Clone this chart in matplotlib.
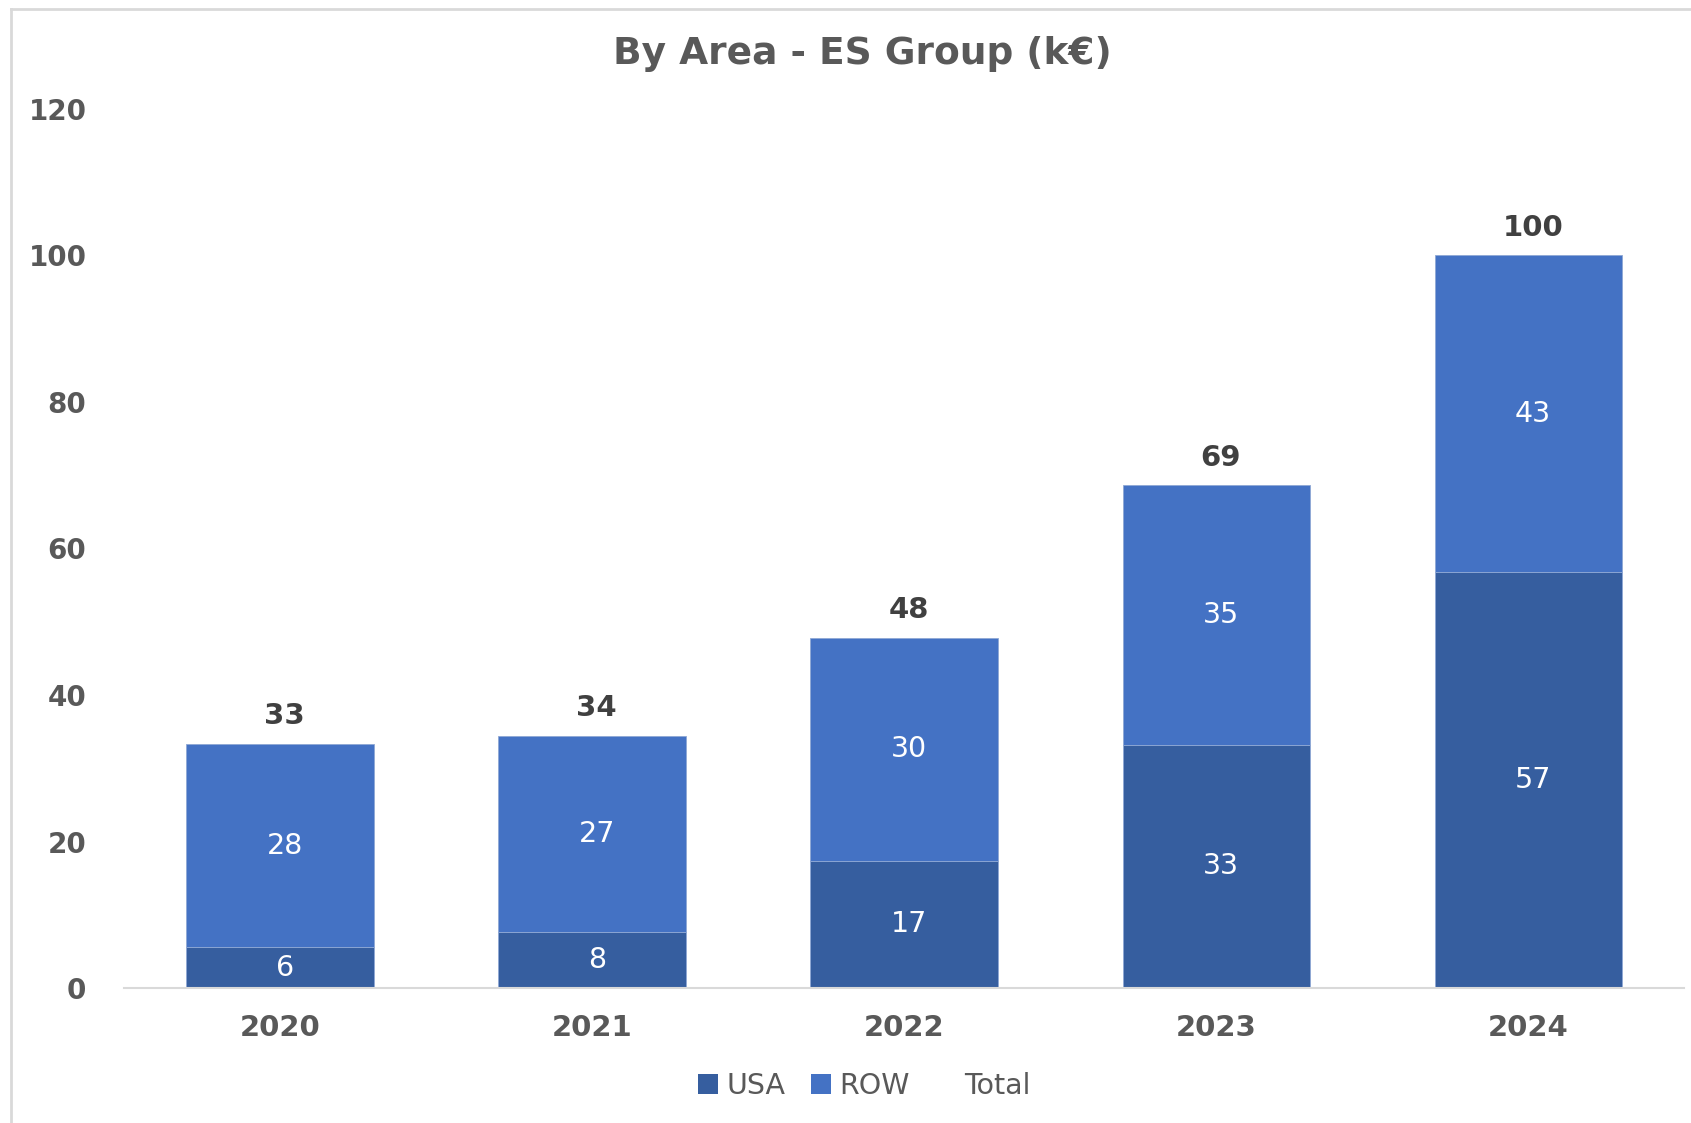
import matplotlib.pyplot as plt
from matplotlib.lines import Line2D
from matplotlib.patches import Patch

# --------------------------------------------------
# Data (k€)
# --------------------------------------------------
years = ["2020", "2021", "2022", "2023", "2024"]
usa = [5.6, 7.6, 17.4, 33.2, 56.8]
row = [27.7, 26.8, 30.4, 35.4, 43.2]
total = [u + r for u, r in zip(usa, row)]
y_ticks = [0, 20, 40, 60, 80, 100, 120]

USA_COLOR = "#365E9F"
ROW_COLOR = "#4472C4"
TEXT_GRAY = "#595959"
DARK_GRAY = "#404040"

plt.rcParams["font.family"] = ["DejaVu Sans"]

fig = plt.figure(figsize=(16.91, 11.23), dpi=100)
ax = fig.add_axes([0.0733, 0.1202, 0.9227, 0.7828])

x = range(len(years))
ax.bar(x, usa, width=0.6, color=USA_COLOR, edgecolor="#8FA8D4", linewidth=0.6)
ax.bar(x, row, width=0.6, bottom=usa, color=ROW_COLOR, edgecolor="#8FA8D4", linewidth=0.6)

# segment labels
for i in x:
    ax.text(i + 0.015, usa[i] / 2, f"{usa[i]:.0f}", ha="center", va="center",
            color="white", fontsize=20.5)
    ax.text(i + 0.015, usa[i] + row[i] / 2, f"{row[i]:.0f}", ha="center", va="center",
            color="white", fontsize=20.5)
    ax.annotate(f"{total[i]:.0f}", (i + 0.015, total[i]), xytext=(0, 10),
                textcoords="offset points", ha="center", va="bottom",
                fontsize=21, fontweight="bold", color=DARK_GRAY)

ax.set_xlim(-0.5, 4.5)
ax.set_ylim(0, 120)
ax.set_yticks(y_ticks)
ax.set_xticks(list(x))
ax.set_xticklabels(years)
ax.tick_params(axis="y", length=0, pad=27, labelsize=20, labelcolor=TEXT_GRAY)
ax.tick_params(axis="x", length=0, pad=19, labelsize=21, labelcolor=TEXT_GRAY)
for lbl in ax.get_xticklabels() + ax.get_yticklabels():
    lbl.set_fontweight("bold")

for side in ["top", "right", "left"]:
    ax.spines[side].set_visible(False)
ax.spines["bottom"].set_color("#D9D9D9")
ax.spines["bottom"].set_linewidth(1.5)

fig.text(0.51, 0.952, "By Area - ES Group (k€)", ha="center", va="center",
         fontsize=27, fontweight="bold", color=TEXT_GRAY)

handles = [
    Patch(facecolor=USA_COLOR, label="USA"),
    Patch(facecolor=ROW_COLOR, label="ROW"),
    Line2D([], [], linestyle="none", label="Total"),
]
fig.legend(handles=handles, loc="center", bbox_to_anchor=(0.511, 0.033),
           ncol=3, frameon=False, fontsize=20.5, handlelength=0.7,
           handleheight=0.7, handletextpad=0.3, columnspacing=0.9,
           labelcolor=TEXT_GRAY)

# chart frame (top and left edges visible in the crop)
fig.add_artist(Line2D([0.0065, 1.0], [0.992, 0.992], color="#D9D9D9", linewidth=2))
fig.add_artist(Line2D([0.0065, 0.0065], [0.0, 0.992], color="#D9D9D9", linewidth=2))

plt.savefig("out.png", dpi=100)
